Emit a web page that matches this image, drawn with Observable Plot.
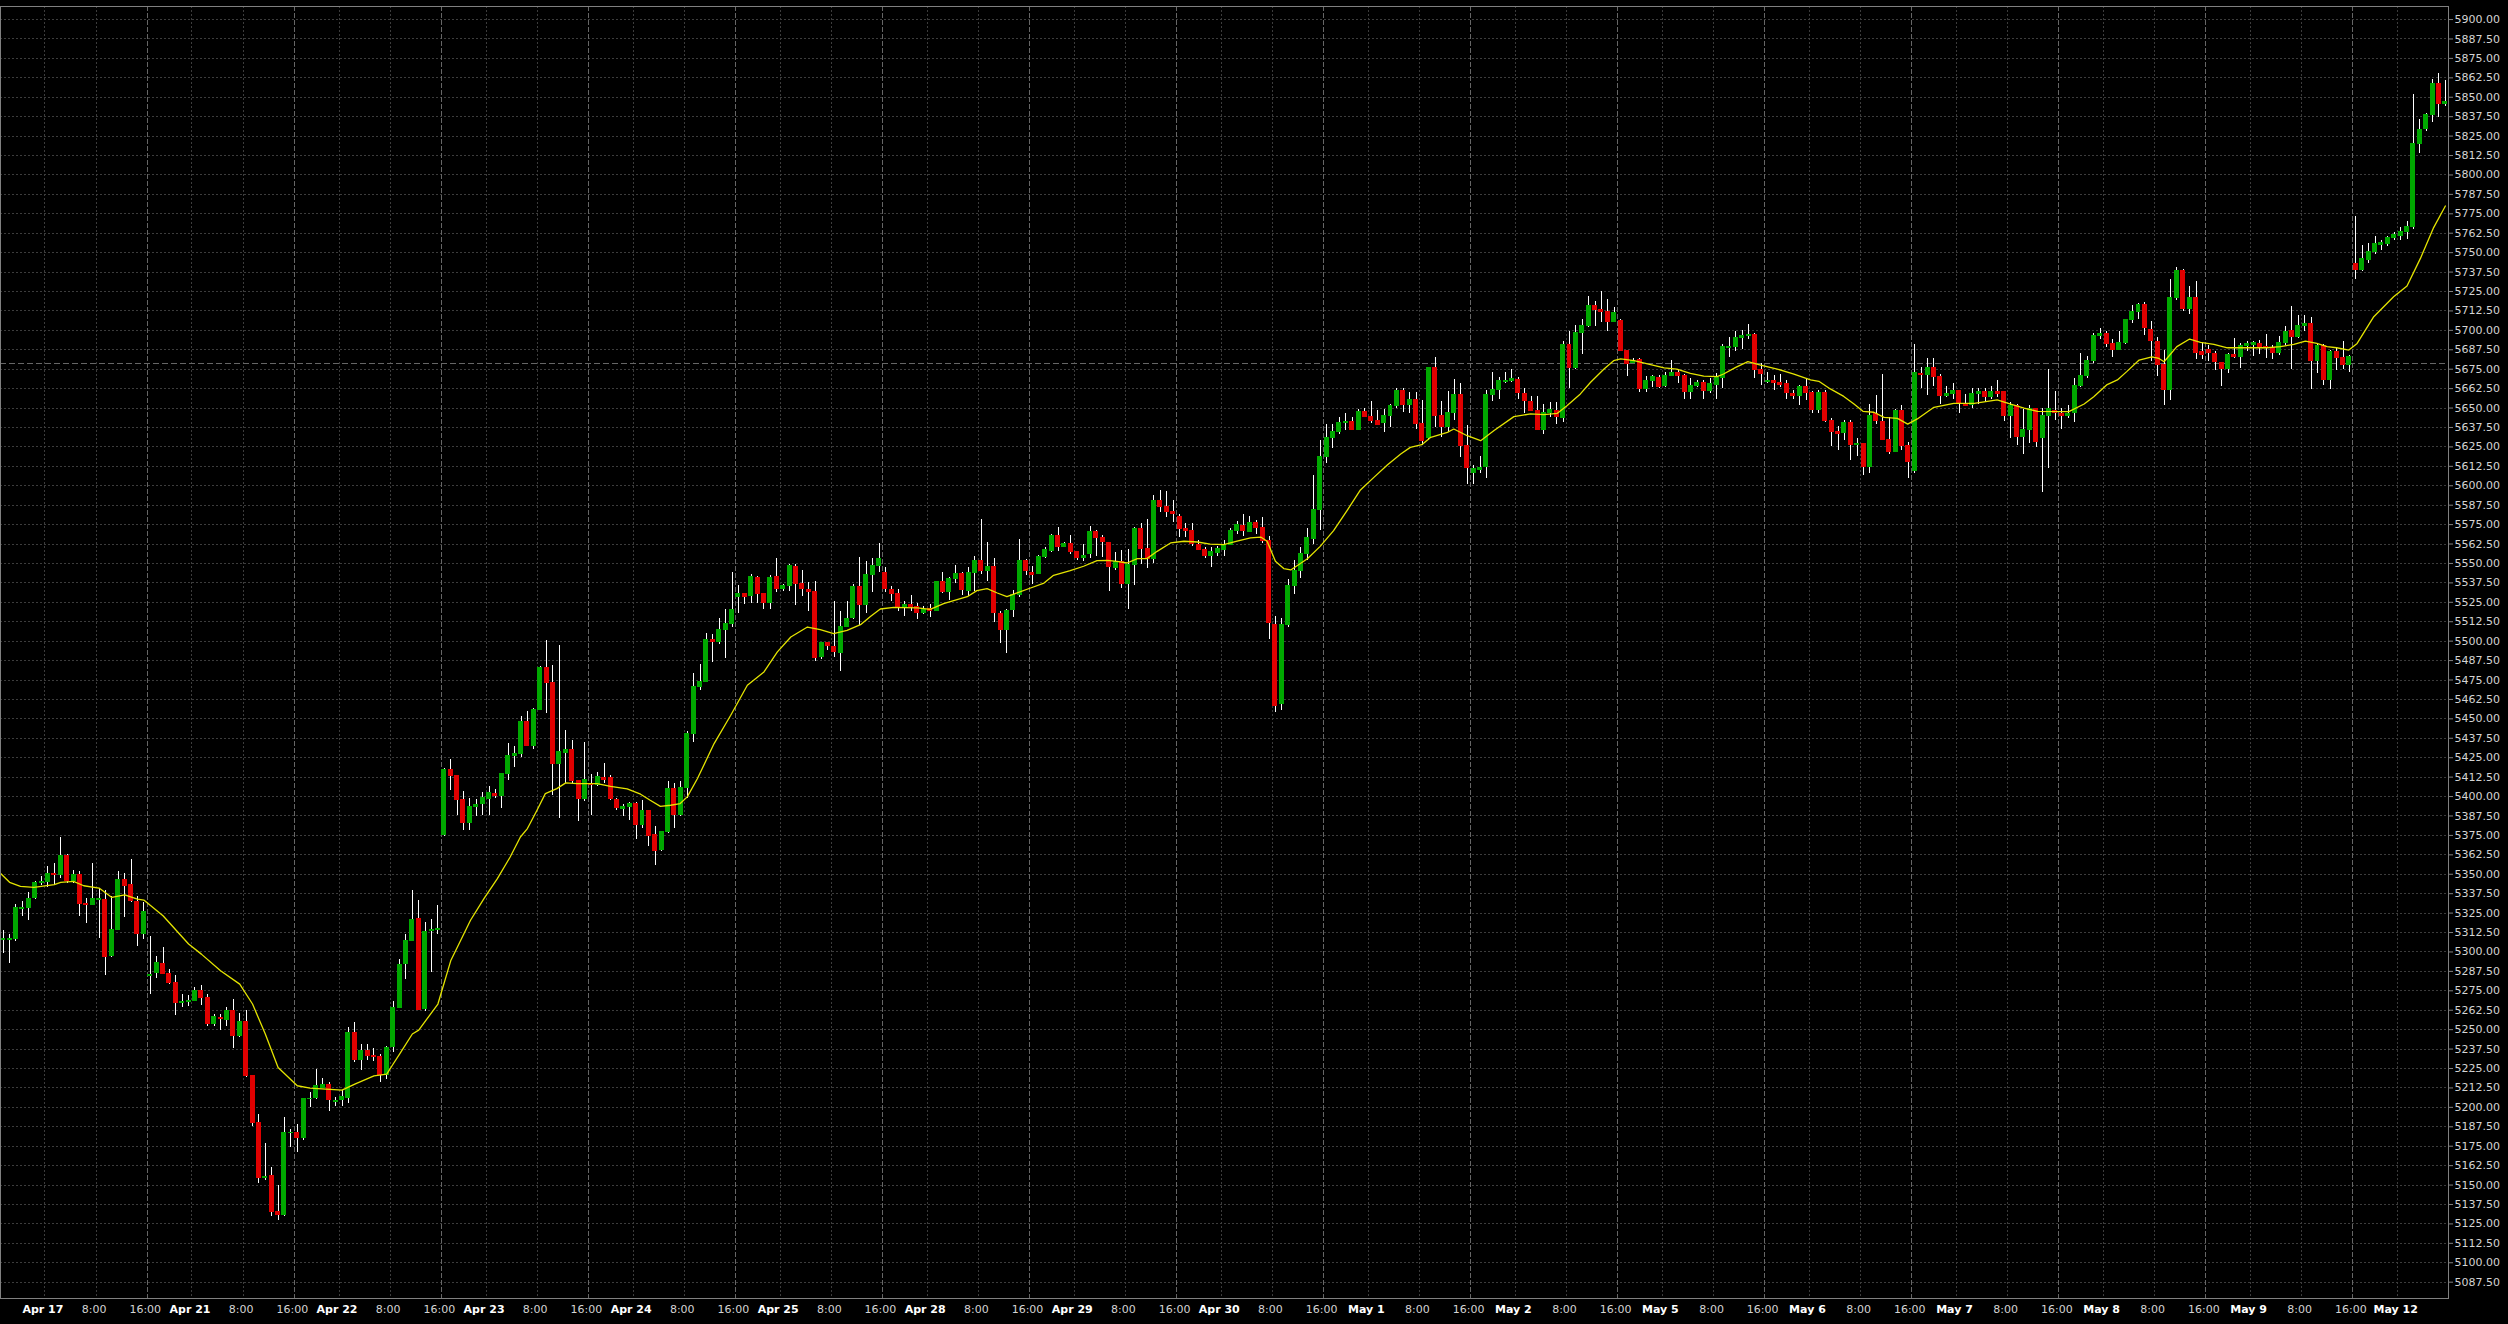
<!DOCTYPE html>
<html><head><meta charset="utf-8">
<script src="https://cdn.jsdelivr.net/npm/d3@7"></script>
<script src="https://cdn.jsdelivr.net/npm/@observablehq/plot@0.6"></script>
<style>html,body{margin:0;padding:0;background:#000;overflow:hidden}</style>
</head><body><div id="chart"></div>
<script>
// ---- H1 candles (US500), one entry per bar ----
const openP = [
5307.5,5307.5,5308.1,5327.8,5328.5,5334.5,5344.5,5345.4,5350.1,5349.3,
5361.9,5345.8,5349.7,5330.8,5330.0,5333.6,5333.4,5297.6,5314.5,5346.3,
5343.3,5332.3,5311.3,5284.8,5286.8,5292.2,5286.0,5280.2,5267.0,5268.1,
5268.8,5275.0,5270.5,5254.0,5257.5,5256.6,5262.2,5245.7,5255.1,5220.3,
5190.1,5154.9,5156.0,5132.8,5131.1,5183.3,5183.3,5180.2,5205.3,5206.4,
5212.8,5214.6,5203.8,5204.6,5206.4,5248.0,5230.8,5236.4,5233.0,5232.6,
5221.0,5238.6,5264.1,5292.2,5307.2,5321.1,5263.2,5313.8,5314.2,5375.1,
5416.9,5413.0,5397.6,5383.0,5393.3,5395.0,5398.5,5401.9,5400.6,5414.3,
5426.1,5427.6,5447.8,5432.6,5455.5,5482.6,5472.9,5421.0,5428.3,5429.8,
5409.8,5398.5,5408.3,5407.3,5411.6,5412.0,5398.0,5392.2,5393.5,5395.0,
5381.9,5390.5,5374.9,5365.4,5377.2,5404.5,5388.0,5405.5,5440.3,5470.3,
5473.5,5500.6,5499.5,5507.0,5510.9,5528.5,5530.6,5529.1,5540.5,5530.4,
5524.6,5540.9,5533.6,5535.5,5547.8,5536.6,5532.7,5531.7,5489.8,5498.6,
5496.3,5492.6,5508.9,5514.9,5534.7,5523.1,5542.4,5548.2,5543.7,5532.7,
5530.2,5522.0,5523.5,5522.0,5518.4,5520.7,5519.6,5537.9,5531.6,5539.8,
5543.0,5532.3,5543.9,5551.8,5545.2,5547.5,5517.5,5507.2,5520.1,5529.9,
5551.4,5543.9,5543.3,5554.4,5557.9,5567.5,5560.6,5562.3,5557.2,5553.5,
5556.1,5570.0,5566.0,5563.0,5546.9,5551.0,5536.8,5548.8,5572.0,5559.3,
5552.9,5590.0,5586.3,5582.9,5579.9,5572.0,5570.7,5562.1,5558.5,5554.6,
5556.5,5558.7,5562.1,5570.7,5573.9,5570.4,5575.8,5572.8,5564.7,5510.6,
5459.6,5510.2,5535.7,5545.0,5556.0,5566.0,5584.4,5618.3,5630.5,5634.8,
5640.2,5641.2,5636.1,5647.7,5644.0,5641.9,5640.2,5644.7,5651.5,5660.8,
5652.2,5654.8,5639.5,5630.5,5675.4,5645.1,5637.6,5646.8,5658.6,5625.4,
5608.0,5609.9,5612.3,5658.6,5661.8,5666.6,5667.2,5668.3,5659.1,5654.1,
5648.3,5636.1,5646.8,5648.3,5643.4,5690.8,5675.8,5698.5,5703.0,5715.9,
5713.3,5711.6,5705.6,5705.8,5686.9,5678.8,5680.9,5662.1,5667.6,5669.3,
5664.4,5670.8,5672.8,5670.6,5660.1,5664.4,5666.3,5660.8,5665.1,5669.1,
5688.4,5689.1,5695.1,5696.2,5697.2,5674.5,5666.6,5667.4,5666.3,5665.1,
5659.1,5657.5,5663.3,5659.9,5649.0,5659.9,5641.9,5634.4,5634.0,5640.0,
5626.0,5627.1,5611.9,5645.8,5641.2,5629.7,5621.9,5648.3,5625.8,5609.7,
5672.1,5671.5,5675.8,5669.8,5657.5,5659.1,5660.8,5652.6,5651.9,5659.1,
5660.1,5656.9,5660.1,5660.1,5645.1,5651.1,5631.2,5636.1,5649.4,5630.7,
5645.1,5648.3,5645.8,5644.7,5646.6,5664.4,5670.6,5680.5,5696.6,5697.7,
5691.2,5687.6,5691.9,5706.7,5712.0,5716.5,5700.2,5692.7,5677.7,5661.6,
5720.6,5738.4,5714.1,5720.6,5685.8,5687.1,5685.0,5678.7,5674.9,5684.1,
5683.0,5690.1,5690.5,5691.4,5689.5,5688.4,5685.2,5692.0,5699.5,5696.1,
5703.0,5704.3,5680.2,5690.1,5668.4,5686.2,5682.4,5677.7,5742.9,5739.0,
5745.1,5750.6,5754.9,5755.9,5759.3,5760.9,5763.5,5766.7,5820.1,5829.5,
5838.5,5858.3,5846.0];
const highP = [
5313.7,5311.5,5330.8,5332.3,5338.3,5345.2,5348.6,5355.3,5357.2,5373.7,
5362.6,5352.7,5351.6,5334.7,5357.0,5340.7,5339.4,5335.5,5351.6,5350.8,
5359.8,5335.5,5331.9,5309.8,5296.9,5302.9,5289.0,5284.7,5272.5,5271.8,
5277.2,5278.5,5272.9,5260.0,5260.0,5264.3,5269.7,5260.5,5262.2,5220.3,
5195.2,5176.8,5161.4,5149.6,5193.5,5186.0,5188.8,5206.0,5209.6,5224.2,
5218.6,5216.1,5206.4,5211.1,5251.4,5254.4,5240.3,5240.7,5238.1,5234.3,
5239.0,5268.0,5295.4,5311.1,5339.4,5333.0,5319.0,5321.2,5329.7,5418.0,
5424.0,5413.0,5403.4,5398.7,5398.0,5402.3,5406.2,5404.5,5414.3,5434.1,
5431.9,5451.2,5454.5,5456.6,5483.4,5500.6,5484.1,5497.4,5442.2,5436.2,
5409.8,5434.5,5414.3,5415.8,5421.2,5413.7,5398.5,5395.0,5395.9,5395.9,
5397.2,5390.5,5380.9,5377.2,5409.8,5408.3,5409.4,5442.0,5479.1,5485.1,
5504.9,5504.2,5514.9,5520.3,5543.9,5536.0,5530.6,5543.0,5541.5,5530.4,
5542.0,5553.1,5536.4,5549.3,5549.5,5545.6,5537.5,5538.1,5498.9,5498.6,
5525.2,5518.8,5525.2,5536.4,5554.0,5551.4,5552.9,5562.8,5547.5,5535.3,
5533.2,5525.6,5529.1,5524.0,5522.4,5523.5,5538.5,5543.9,5540.7,5548.8,
5544.1,5547.5,5554.4,5578.2,5563.2,5553.1,5519.2,5520.3,5532.5,5565.3,
5552.5,5548.2,5555.0,5560.0,5568.6,5573.3,5563.8,5567.7,5557.8,5562.1,
5573.5,5571.1,5568.1,5563.5,5556.8,5558.3,5558.9,5573.3,5575.4,5578.0,
5593.6,5597.1,5596.4,5590.4,5581.2,5575.4,5575.6,5564.7,5560.4,5560.4,
5561.0,5564.9,5572.2,5576.7,5581.4,5580.1,5577.8,5579.7,5567.5,5516.0,
5514.9,5539.6,5552.0,5560.0,5572.2,5606.5,5629.0,5639.3,5639.7,5644.0,
5646.6,5644.0,5648.8,5649.4,5654.1,5648.3,5648.8,5652.6,5662.3,5662.9,
5660.1,5660.1,5654.8,5675.4,5682.6,5654.3,5660.8,5668.1,5665.9,5638.7,
5612.9,5618.7,5661.6,5672.6,5669.8,5673.0,5675.1,5669.8,5662.7,5657.3,
5657.5,5652.6,5653.3,5653.7,5692.9,5699.2,5703.0,5706.9,5721.7,5718.7,
5724.9,5719.8,5714.4,5706.9,5686.9,5682.2,5681.6,5670.2,5670.8,5670.8,
5673.0,5680.5,5675.1,5671.5,5668.7,5667.6,5667.6,5668.7,5672.3,5691.2,
5695.1,5699.4,5699.8,5703.7,5698.1,5678.4,5673.0,5670.8,5671.5,5667.6,
5661.2,5664.4,5668.7,5660.5,5661.2,5661.2,5643.0,5638.0,5642.3,5642.3,
5630.1,5627.5,5652.2,5658.0,5671.9,5644.0,5648.8,5651.5,5627.9,5690.8,
5675.8,5681.6,5681.6,5671.9,5663.8,5665.9,5661.6,5658.6,5662.3,5662.9,
5662.9,5663.8,5667.6,5660.8,5653.7,5652.6,5648.8,5651.5,5649.8,5649.4,
5675.1,5660.8,5649.4,5651.5,5668.7,5684.8,5683.1,5698.1,5700.9,5699.2,
5694.4,5699.4,5707.3,5715.9,5717.4,5718.0,5705.5,5695.3,5687.3,5733.0,
5740.3,5739.2,5728.1,5731.3,5691.6,5690.5,5686.2,5679.4,5685.2,5694.8,
5691.6,5692.7,5693.1,5693.7,5697.4,5690.5,5695.9,5702.3,5715.2,5709.8,
5709.8,5708.1,5691.6,5691.0,5687.3,5688.4,5693.1,5684.1,5773.1,5754.9,
5755.9,5760.2,5757.5,5760.7,5763.0,5766.2,5769.9,5851.8,5835.7,5839.6,
5861.5,5865.3,5861.1];
const lowP = [
5299.1,5292.6,5306.8,5322.7,5320.1,5333.6,5342.6,5341.5,5342.6,5347.5,
5344.1,5344.1,5322.7,5318.4,5329.8,5308.7,5284.9,5296.5,5313.7,5322.2,
5331.9,5303.4,5307.9,5272.7,5283.0,5285.3,5279.3,5259.2,5264.3,5265.2,
5268.0,5265.8,5252.3,5252.1,5249.7,5251.9,5237.9,5245.0,5219.3,5188.0,
5151.3,5152.8,5130.0,5127.0,5129.8,5174.2,5171.0,5178.9,5200.0,5205.3,
5212.0,5197.4,5200.4,5200.8,5202.8,5228.7,5224.0,5230.0,5229.4,5216.3,
5218.2,5235.6,5263.9,5282.3,5306.8,5262.2,5261.7,5286.8,5311.5,5374.0,
5404.0,5388.0,5377.9,5378.3,5386.9,5388.0,5388.0,5398.5,5392.5,5410.5,
5418.6,5425.1,5432.0,5430.2,5455.5,5453.4,5400.8,5385.8,5408.3,5408.3,
5383.7,5396.5,5388.0,5406.5,5408.3,5397.6,5391.2,5387.3,5384.7,5372.3,
5379.4,5367.6,5355.4,5364.4,5376.2,5379.4,5386.9,5398.7,5435.1,5468.0,
5473.1,5486.0,5498.0,5488.8,5508.7,5517.7,5523.7,5524.2,5524.2,5520.3,
5520.3,5531.0,5531.7,5532.1,5522.7,5528.5,5519.4,5486.6,5488.1,5494.1,
5489.4,5480.2,5508.7,5513.9,5510.2,5518.1,5531.0,5544.5,5531.0,5525.6,
5518.8,5516.0,5518.8,5514.1,5517.1,5515.4,5519.2,5530.4,5526.1,5537.4,
5529.5,5528.6,5532.1,5542.8,5538.5,5512.3,5498.8,5491.8,5515.3,5528.2,
5542.4,5536.4,5542.8,5553.5,5556.8,5557.8,5560.0,5555.7,5551.8,5551.4,
5553.5,5554.6,5554.0,5532.1,5545.4,5534.2,5520.1,5535.7,5549.2,5546.7,
5549.7,5582.9,5579.3,5576.1,5567.0,5566.8,5561.0,5558.2,5553.5,5547.5,
5554.4,5554.4,5561.7,5568.5,5567.5,5569.6,5568.5,5562.8,5501.0,5454.4,
5455.3,5508.5,5530.0,5540.0,5552.0,5562.0,5571.0,5614.0,5623.7,5633.3,
5635.5,5635.5,5636.1,5644.0,5640.2,5638.7,5634.4,5637.6,5650.0,5647.3,
5646.2,5635.9,5625.8,5629.0,5637.6,5631.2,5634.4,5641.9,5618.3,5601.1,
5600.5,5607.6,5604.8,5654.3,5655.2,5666.0,5666.5,5655.8,5646.2,5647.7,
5635.5,5632.9,5644.0,5639.7,5640.8,5662.7,5675.0,5684.4,5702.0,5702.4,
5705.2,5699.4,5705.2,5686.5,5670.2,5678.4,5660.1,5660.1,5663.3,5662.3,
5663.3,5670.2,5665.9,5655.2,5655.2,5663.3,5655.8,5659.1,5655.2,5662.3,
5682.6,5686.5,5687.4,5694.4,5669.1,5664.8,5665.5,5661.2,5663.3,5655.8,
5655.8,5651.5,5654.8,5646.2,5646.2,5640.8,5625.2,5623.0,5629.0,5616.2,
5618.9,5606.5,5608.0,5639.7,5629.0,5620.0,5621.5,5622.6,5604.4,5608.0,
5662.3,5658.0,5663.8,5652.2,5656.9,5655.8,5646.2,5650.9,5649.4,5652.6,
5653.7,5655.8,5656.9,5641.5,5630.7,5625.8,5619.8,5626.9,5624.3,5595.8,
5611.2,5641.9,5636.5,5643.6,5640.8,5663.3,5668.7,5678.8,5694.4,5688.7,
5682.6,5686.9,5691.2,5704.1,5707.3,5697.0,5679.8,5670.2,5651.9,5655.1,
5719.5,5712.0,5710.3,5681.5,5681.5,5680.2,5674.4,5663.7,5672.3,5681.9,
5675.5,5686.2,5683.0,5684.5,5681.9,5681.5,5684.1,5690.5,5674.9,5694.8,
5699.1,5662.0,5672.3,5664.8,5662.0,5674.4,5675.1,5673.0,5733.0,5737.7,
5743.1,5748.9,5751.7,5753.8,5757.5,5757.7,5758.7,5765.2,5813.9,5828.0,
5833.8,5837.0,5843.9];
const closeP = [
5308.0,5308.0,5328.2,5328.4,5334.0,5344.5,5345.0,5350.1,5349.7,5361.9,
5345.8,5349.7,5331.2,5330.3,5334.0,5334.0,5297.1,5314.3,5346.3,5342.6,
5333.0,5311.3,5325.9,5285.4,5293.1,5286.2,5280.2,5266.9,5267.5,5268.6,
5275.0,5270.5,5254.0,5258.3,5257.0,5262.2,5245.7,5255.1,5220.3,5190.3,
5154.9,5155.3,5133.0,5131.1,5183.7,5183.7,5180.2,5205.5,5205.6,5213.7,
5214.6,5204.7,5204.2,5206.4,5248.0,5230.8,5236.4,5233.2,5232.6,5221.0,
5238.4,5264.1,5291.8,5307.2,5320.7,5262.8,5313.0,5314.1,5314.5,5416.9,
5413.0,5397.6,5383.0,5393.3,5394.8,5398.9,5402.3,5400.6,5414.3,5425.9,
5427.6,5447.8,5432.6,5455.5,5482.6,5472.9,5421.0,5428.5,5429.8,5409.8,
5398.5,5410.5,5407.3,5412.6,5410.5,5398.5,5392.9,5393.3,5395.0,5381.9,
5390.5,5374.9,5365.0,5377.2,5404.5,5388.0,5405.5,5439.9,5470.3,5473.5,
5500.6,5499.5,5507.0,5510.9,5519.9,5530.2,5528.5,5540.9,5530.4,5524.6,
5540.5,5533.6,5535.3,5548.2,5537.0,5533.6,5531.7,5489.4,5498.9,5497.1,
5492.8,5508.9,5514.5,5534.9,5523.1,5542.4,5548.2,5552.7,5533.6,5530.4,
5522.0,5523.5,5522.0,5518.4,5520.1,5519.6,5537.9,5531.6,5539.8,5543.0,
5532.7,5543.7,5551.4,5545.2,5547.5,5518.1,5507.2,5519.2,5529.9,5551.4,
5545.0,5542.6,5554.4,5558.5,5567.5,5560.6,5562.3,5557.2,5553.5,5554.8,
5570.0,5566.2,5563.6,5547.5,5551.0,5536.8,5548.8,5572.0,5559.3,5552.9,
5590.0,5586.3,5582.9,5581.6,5572.2,5570.9,5562.3,5558.5,5554.6,5557.2,
5559.1,5562.1,5570.7,5574.6,5570.7,5575.8,5572.8,5564.7,5511.7,5458.1,
5510.2,5535.7,5545.0,5556.0,5566.0,5584.6,5618.7,5630.5,5634.8,5640.6,
5641.2,5636.1,5647.7,5644.5,5641.5,5639.3,5645.1,5651.5,5660.8,5652.2,
5654.8,5639.5,5628.6,5675.4,5645.1,5637.6,5646.8,5658.6,5625.4,5611.4,
5610.4,5611.6,5658.6,5661.8,5667.2,5667.6,5668.5,5659.5,5654.3,5648.3,
5636.1,5646.8,5648.8,5644.0,5690.2,5675.8,5698.5,5703.0,5715.9,5713.3,
5711.6,5705.6,5711.0,5686.9,5678.4,5680.5,5662.1,5667.6,5670.2,5663.8,
5670.6,5672.8,5670.8,5660.1,5664.4,5665.9,5660.8,5665.1,5669.1,5689.1,
5689.5,5695.1,5696.2,5697.2,5674.5,5671.9,5667.6,5666.3,5665.1,5659.5,
5657.5,5663.3,5659.9,5649.0,5659.9,5641.9,5634.8,5633.1,5640.0,5626.0,
5627.1,5611.9,5645.1,5641.9,5629.7,5621.9,5648.3,5625.8,5615.5,5672.8,
5671.1,5675.8,5669.8,5657.5,5659.1,5660.8,5652.6,5651.5,5659.1,5660.1,
5656.9,5660.1,5659.1,5645.1,5651.1,5631.2,5636.1,5649.4,5627.9,5645.1,
5649.4,5646.8,5644.7,5645.8,5664.4,5670.6,5680.5,5696.6,5697.7,5691.2,
5687.6,5691.9,5706.7,5712.0,5716.5,5701.3,5693.1,5677.7,5661.6,5720.6,
5738.4,5714.1,5720.6,5685.8,5684.5,5685.2,5679.4,5674.9,5684.1,5683.0,
5690.1,5691.0,5691.6,5689.5,5688.6,5685.8,5692.0,5699.1,5696.1,5703.0,
5704.3,5680.2,5690.1,5668.0,5686.2,5682.4,5677.7,5683.0,5739.0,5745.7,
5750.6,5755.3,5755.9,5759.6,5761.3,5763.5,5766.7,5820.1,5828.9,5838.5,
5858.3,5846.0,5847.1];

// ---- moving average at these bar positions ----
const maBar = [-0.4,1,2.7,4.8,8,9,11,12.6,15,17,19,21,22,25,29,31,34,37,39,41,43,46,48,53,55,58,60,61,62,64,65,68,70,
73.1,75.2,77.3,79.3,80.9,82,83.5,84.8,86.6,88,89.8,92.9,95,97.6,99.7,101.2,102.8,104.4,105.9,107,108.6,111.2,113.8,116.4,119,121.1,123.2,125.8,127.8,129.9,132,134.1,
135.7,137.2,139.3,143,145,147.1,149.2,150.8,152.3,153.9,155.5,157,158.6,160.7,162.8,164.3,166.9,169,171.1,172.7,174.2,175.8,177.4,178.9,180.5,182.6,184.7,186.8,188.8,190.9,193,195.1,196.7,197.7,199,200.3,201.4,
204,206,208.1,210.2,212.3,214.4,216.5,218.6,220.1,221.9,223.3,225.9,226.9,229,231.1,233.2,236.3,238.9,241,243.1,244.6,246.7,248.3,250.4,251.9,253,255.1,257.2,259.8,261.8,263.9,266,268.1,
269.1,271,272.9,274.9,277.5,280.1,282.7,284,285.8,287.9,289.5,290.9,292.6,294.2,296.3,297.9,299.4,302,305.1,308.3,311.9,314,316.1,318.2,323.1,325.5,327,329.1,330.7,332.2,334.1,
336.1,337.2,338,340,342,343.7,345.8,347.9,351,354.1,356.2,358.3,360.1,361.9,363.5,365,366.9,368.2,370.8,373.9,376,378.1,380.1,382];
const maValue = [5350.5,5344.8,5342.2,5341.5,5343.3,5344.8,5345.4,5342.6,5341.1,5335.1,5336.8,5334.0,5333.4,5323.3,5305.1,5298.6,5287.9,5279.3,5266.5,5247.2,5225.7,5213.9,5212.4,5211.1,5215.0,5220.3,5221.4,5227.9,5234.3,5247.2,5249.7,5266.5,5294.3,
5320.4,5334.3,5347.2,5361.1,5374.0,5379.4,5391.2,5401.9,5405.1,5408.8,5408.3,5408.3,5406.6,5404.9,5401.5,5397.6,5393.7,5394.4,5395.5,5399.8,5411.6,5434.1,5452.3,5471.6,5480.2,5493.1,5502.7,5509.1,5507.4,5504.9,5507.0,5510.6,
5516.0,5520.7,5521.8,5521.4,5520.5,5524.1,5526.7,5528.6,5532.5,5533.8,5531.0,5528.6,5531.0,5534.2,5537.4,5542.4,5545.4,5548.2,5551.8,5552.0,5551.4,5550.3,5553.1,5553.1,5557.8,5563.2,5564.3,5563.8,5562.5,5562.1,5564.3,5566.4,5567.0,5564.3,5551.4,5546.7,5545.8,
5553.0,5561.0,5571.1,5584.0,5597.3,5605.4,5613.4,5620.4,5624.7,5626.4,5631.2,5634.4,5636.5,5632.2,5629.0,5635.5,5644.5,5646.2,5645.8,5646.6,5651.5,5659.1,5666.6,5675.1,5680.5,5681.6,5680.5,5678.4,5675.8,5675.1,5672.3,5670.6,5670.2,
5671.9,5676.2,5679.9,5677.7,5675.1,5671.9,5668.1,5667.2,5662.3,5657.5,5652.6,5647.9,5647.3,5644.0,5643.4,5639.7,5643.0,5650.5,5653.0,5653.0,5655.2,5652.6,5650.0,5647.9,5647.7,5652.6,5657.3,5665.1,5668.1,5673.6,5680.9,
5683.0,5681.9,5679.8,5689.5,5694.4,5692.3,5691.0,5688.8,5688.8,5688.8,5689.5,5691.0,5693.1,5691.6,5689.5,5688.8,5687.3,5691.6,5708.8,5721.6,5728.5,5746.3,5765.6,5780.0];

// ---- time axis labels ----
const dayLabels = ["Apr 17","Apr 21","Apr 22","Apr 23","Apr 24","Apr 25","Apr 28","Apr 29","Apr 30","May 1","May 2","May 5","May 6","May 7","May 8","May 9","May 12"];
const hourLabels = ["8:00","16:00"];
const barsPerDay = 23, dateBar = 7, hourBars = [15, 23];
const levelPrice = 5678.5;
const yTicks = d3.range(5087.5, 5900.01, 12.5);

const N = closeP.length;
const candles = d3.range(N).map(i => ({i, o: openP[i], h: highP[i], l: lowP[i], c: closeP[i]}));
const ma = maBar.map((b, k) => ({b, v: maValue[k]}));
const dateTicks = dayLabels.map((t, d) => ({bar: d * barsPerDay + dateBar, text: t})).filter(d => d.bar < N);
const hourTicks = dayLabels.flatMap((t, d) => hourLabels.map((h, k) => ({bar: d * barsPerDay + hourBars[k], text: h}))).filter(d => d.bar < N);
const dateText = new Map(dateTicks.map(d => [d.bar, d.text]));
const hourText = new Map(hourTicks.map(d => [d.bar, d.text]));
const heavyBars = hourTicks.filter(d => d.text === "16:00").map(d => d.bar);
const lightBars = [...dateTicks.map(d => d.bar), ...hourTicks.filter(d => d.text === "8:00").map(d => d.bar)];

const UP = "#00a800", DOWN = "#e00000";
const chart = Plot.plot({
  width: 2508, height: 1324,
  marginLeft: 0, marginRight: 60, marginTop: 6, marginBottom: 26,
  style: {background: "#000", color: "#d0d0d0", fontFamily: "'DejaVu Sans', Verdana, sans-serif", fontSize: "11px"},
  x: {type: "linear", domain: [-0.42, 382.49], axis: null},
  y: {type: "linear", domain: [5077.0, 5908.4], axis: null},
  marks: [
    Plot.gridY(yTicks, {stroke: "#3c3c3c", strokeOpacity: 1, strokeDasharray: "2,2", shapeRendering: "crispEdges"}),
    Plot.ruleX(lightBars, {x: d => d, dx: -3, stroke: "#3c3c3c", strokeDasharray: "2,2", shapeRendering: "crispEdges"}),
    Plot.ruleX(heavyBars, {x: d => d, dx: -3, stroke: "#666", strokeDasharray: "5,2", shapeRendering: "crispEdges"}),
    Plot.ruleY([levelPrice], {stroke: "#666", strokeDasharray: "6,3", shapeRendering: "crispEdges"}),
    Plot.ruleX(candles, {x: "i", y1: "l", y2: "h", stroke: "#fff", strokeWidth: 1, shapeRendering: "crispEdges"}),
    Plot.rect(candles.filter(d => d.c >= d.o), {x1: d => d.i - 0.39, x2: d => d.i + 0.39, y1: "o", y2: "c", fill: UP, insetTop: -0.6, insetBottom: -0.6, shapeRendering: "crispEdges"}),
    Plot.rect(candles.filter(d => d.c < d.o), {x1: d => d.i - 0.39, x2: d => d.i + 0.39, y1: "o", y2: "c", fill: DOWN, insetTop: -0.6, insetBottom: -0.6, shapeRendering: "crispEdges"}),
    Plot.line(ma, {x: "b", y: "v", stroke: "#e4e400", strokeWidth: 1.3}),
    Plot.frame({stroke: "#808080", shapeRendering: "crispEdges"}),
    Plot.axisY(yTicks, {anchor: "right", tickSize: 4, tickPadding: 2, tickFormat: d => d.toFixed(2), stroke: "#808080", fill: "#d4d4d4"}),
    Plot.axisX(dateTicks.map(d => d.bar), {anchor: "bottom", tickSize: 0, tickPadding: 7, tickFormat: b => dateText.get(b), fontWeight: "bold", fill: "#ffffff", dx: -5}),
    Plot.axisX(hourTicks.map(d => d.bar), {anchor: "bottom", tickSize: 0, tickPadding: 7, tickFormat: b => hourText.get(b), fill: "#d4d4d4", dx: -5})
  ]
});
document.getElementById("chart").appendChild(chart);
</script>
</body></html>
